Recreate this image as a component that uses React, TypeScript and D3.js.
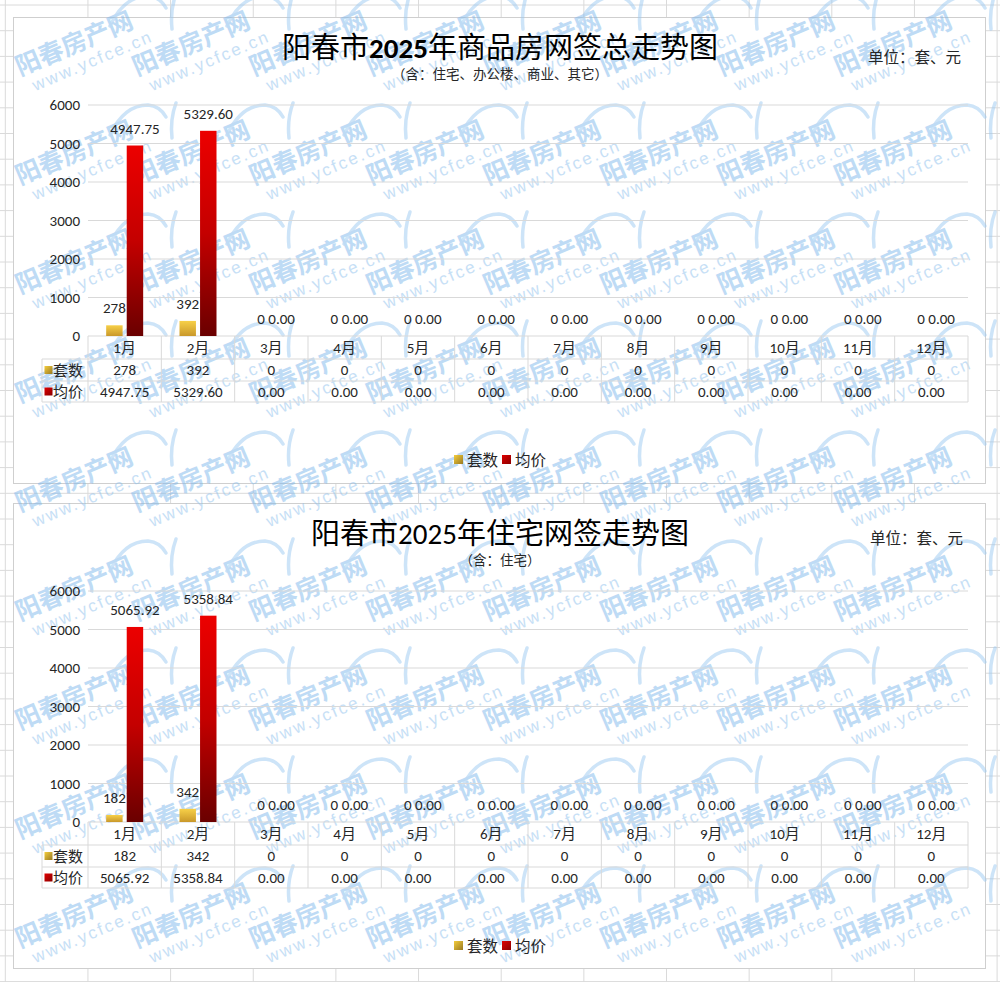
import React from 'react';
import * as d3 from 'd3';

const W = 1000;
const H = 982;

const months = ['1月', '2月', '3月', '4月', '5月', '6月', '7月', '8月', '9月', '10月', '11月', '12月'];
const seriesNames = ['套数', '均价'];
const yTicks = [0, 1000, 2000, 3000, 4000, 5000, 6000];

const units1 = [278, 392, 0, 0, 0, 0, 0, 0, 0, 0, 0, 0];
const prices1 = [4947.75, 5329.6, 0, 0, 0, 0, 0, 0, 0, 0, 0, 0];
const units2 = [182, 342, 0, 0, 0, 0, 0, 0, 0, 0, 0, 0];
const prices2 = [5065.92, 5358.84, 0, 0, 0, 0, 0, 0, 0, 0, 0, 0];

const NUM = "Carlito, 'Liberation Sans', Arial, 'Noto Sans CJK SC', sans-serif";
const CJK = "'Noto Sans CJK SC', sans-serif";
const GRID = '#d9d9d9';
const TXT = '#262626';

function fmt(s: string, v: number) {
  return s === '套数' ? String(Math.round(v)) : v.toFixed(2);
}

type ChartProps = {
  top: number;
  titleA: string;
  titleNum: string;
  titleB: string;
  numBold: boolean;
  subtitle: string;
  unitX: number;
  unitDy: number;
  units: number[];
  prices: number[];
};

function Chart(p: ChartProps) {
  const { top } = p;
  const x = d3.scaleBand<string>().domain(months).range([88, 968]).padding(0);
  const x1 = d3.scaleBand<string>().domain(seriesNames).range([-18.5, 18.5]).paddingInner(0.2);
  const y = d3.scaleLinear().domain([0, 6000]).range([top + 319, top + 88]);
  const val = (s: string, i: number) => (s === '套数' ? p.units[i] : p.prices[i]);
  const fillOf = (s: string) => (s === '套数' ? 'url(#gGold)' : 'url(#gRed)');
  const keyOf = (s: string) => (s === '套数' ? 'url(#gGoldK)' : 'url(#gRedK)');
  const rowTop = [top + 319, top + 342, top + 364, top + 385];
  const rowMid = (r: number) => (rowTop[r] + rowTop[r + 1]) / 2;
  const bw = x.bandwidth();
  return (
    <g>
      {yTicks.map((t) => (
        <line key={'g' + t} x1={88} x2={968} y1={y(t)} y2={y(t)} stroke={GRID} strokeWidth={1} />
      ))}
      {yTicks.map((t) => (
        <text key={'yl' + t} x={80} y={y(t) + 5} textAnchor="end" fontFamily={NUM} fontSize={15} fill={TXT}>
          {t}
        </text>
      ))}
      {months.map((m, i) =>
        seriesNames.map((s) => {
          const v = val(s, i);
          if (v <= 0) return null;
          const bx = (x(m) as number) + bw / 2 + (x1(s) as number);
          return (
            <rect key={m + s} x={bx} y={y(v)} width={x1.bandwidth()} height={y(0) - y(v)} fill={fillOf(s)} />
          );
        })
      )}
      {months.map((m, i) =>
        seriesNames.map((s) => {
          const v = val(s, i);
          const cx = (x(m) as number) + bw / 2 + (x1(s) as number) + x1.bandwidth() / 2;
          return (
            <text key={'dl' + m + s} x={cx} y={y(v) - 12} textAnchor="middle" fontFamily={NUM} fontSize={15} fill={TXT}>
              {fmt(s, v)}
            </text>
          );
        })
      )}
      <line x1={42} x2={968} y1={rowTop[1]} y2={rowTop[1]} stroke={GRID} />
      <line x1={42} x2={968} y1={rowTop[2]} y2={rowTop[2]} stroke={GRID} />
      <line x1={42} x2={968} y1={rowTop[3]} y2={rowTop[3]} stroke={GRID} />
      <line x1={42} x2={42} y1={rowTop[1]} y2={rowTop[3]} stroke={GRID} />
      {months.map((m) => (
        <line key={'tv' + m} x1={x(m) as number} x2={x(m) as number} y1={rowTop[0]} y2={rowTop[3]} stroke={GRID} />
      ))}
      <line x1={968} x2={968} y1={rowTop[0]} y2={rowTop[3]} stroke={GRID} />
      {months.map((m) => (
        <text key={'tm' + m} x={(x(m) as number) + bw / 2} y={rowMid(0) + 5.5} textAnchor="middle" fontFamily={NUM} fontSize={15} fill={TXT}>
          {m}
        </text>
      ))}
      {seriesNames.map((s, r) => (
        <g key={'tr' + s}>
          <rect x={44.5} y={rowMid(r + 1) - 4} width={8} height={8} fill={keyOf(s)} />
          <text x={53} y={rowMid(r + 1) + 5.5} fontFamily={CJK} fontSize={15} fill={TXT}>
            {s}
          </text>
          {months.map((m, i) => (
            <text key={'tc' + s + m} x={(x(m) as number) + bw / 2} y={rowMid(r + 1) + 5} textAnchor="middle" fontFamily={NUM} fontSize={15} fill={TXT}>
              {fmt(s, val(s, i))}
            </text>
          ))}
        </g>
      ))}
      <text x={500} y={top + 41} textAnchor="middle" fontSize={29} fill="#000" fontFamily={CJK}>
        <tspan fontFamily={CJK}>{p.titleA}</tspan>
        <tspan fontFamily={NUM} fontWeight={p.numBold ? 700 : 400}>{p.titleNum}</tspan>
        <tspan fontFamily={CJK}>{p.titleB}</tspan>
      </text>
      <text x={500} y={top + 62} textAnchor="middle" fontSize={13.5} fill={TXT} fontFamily={CJK}>
        {p.subtitle}
      </text>
      <text x={p.unitX} y={top + p.unitDy} fontSize={15.5} fill={TXT} fontFamily={CJK}>
        单位：套、元
      </text>
      {seriesNames.map((s, k) => (
        <g key={'lg' + s}>
          <rect x={454 + k * 48} y={top + 438} width={9} height={9} fill={keyOf(s)} />
          <text x={467 + k * 48} y={top + 448.5} fontSize={15.5} fill={TXT} fontFamily={CJK}>
            {s}
          </text>
        </g>
      ))}
    </g>
  );
}

function Watermark({ ox, oy }: { ox: number; oy: number }) {
  return (
    <g transform={`translate(${ox},${oy})`} opacity={0.5}>
      <path
        d="M90,-50 Q104,-80 128,-80 Q140,-79 146,-68 M156,-82 Q150,-66 152,-47"
        fill="none"
        stroke="#9ccaf2"
        strokeWidth={3.5}
        strokeLinecap="round"
      />
      <g transform="rotate(-23)">
        <text x={0} y={0} fontFamily={CJK} fontWeight={700} fontSize={25} fill="#7fb8ec">
          阳春房产网
        </text>
        <text x={8} y={20} fontFamily="'Liberation Sans', sans-serif" fontSize={17} letterSpacing={2.2} fill="#8fc2ee">
          www.ycfce.cn
        </text>
      </g>
    </g>
  );
}

export default function App() {
  const cols = d3.range(0, 13).map((k) => 5.3 + 82.65 * k);
  const rows = d3.range(0, 39).map((k) => 5 + 25.7 * k);
  const wmX = d3.range(0, 8).map((i) => 20 + 117 * i);
  const wmY = d3.range(0, 9).map((j) => 76 + 109 * j);
  return (
    <svg width={W} height={H} style={{ position: 'absolute', left: 0, top: 0, background: '#fff' }}>
      <defs>
        <linearGradient id="gGold" x1="0" y1="0" x2="0" y2="1">
          <stop offset="0" stopColor="#f7d048" />
          <stop offset="1" stopColor="#c9982a" />
        </linearGradient>
        <linearGradient id="gRed" x1="0" y1="0" x2="0" y2="1">
          <stop offset="0" stopColor="#ec0000" />
          <stop offset="0.5" stopColor="#c40000" />
          <stop offset="1" stopColor="#6a0000" />
        </linearGradient>
        <linearGradient id="gGoldK" x1="0" y1="0" x2="1" y2="1">
          <stop offset="0" stopColor="#f4cd3c" />
          <stop offset="1" stopColor="#9a7a22" />
        </linearGradient>
        <linearGradient id="gRedK" x1="0" y1="0" x2="1" y2="1">
          <stop offset="0" stopColor="#e00000" />
          <stop offset="1" stopColor="#8a0000" />
        </linearGradient>
      </defs>
      <rect x={0} y={0} width={W} height={H} fill="#fff" />
      {cols.map((c, k) => (
        <line key={'sc' + k} x1={c} x2={c} y1={0} y2={H} stroke="#dadada" />
      ))}
      {rows.map((r, k) => (
        <line key={'sr' + k} x1={0} x2={W} y1={r} y2={r} stroke="#dadada" />
      ))}
      <rect x={13.5} y={17.5} width={972} height={466} fill="#fff" stroke="#cfcfcf" />
      <rect x={13.5} y={503.5} width={972} height={465} fill="#fff" stroke="#cfcfcf" />
      {wmY.map((yy) => wmX.map((xx) => <Watermark key={xx + '_' + yy} ox={xx} oy={yy} />))}
      <Chart
        top={17}
        titleA="阳春市"
        titleNum="2025"
        titleB="年商品房网签总走势图"
        numBold={true}
        subtitle="（含：住宅、办公楼、商业、其它）"
        unitX={868}
        unitDy={46}
        units={units1}
        prices={prices1}
      />
      <Chart
        top={503}
        titleA="阳春市"
        titleNum="2025"
        titleB="年住宅网签走势图"
        numBold={false}
        subtitle="（含：住宅）"
        unitX={870}
        unitDy={41}
        units={units2}
        prices={prices2}
      />
    </svg>
  );
}
